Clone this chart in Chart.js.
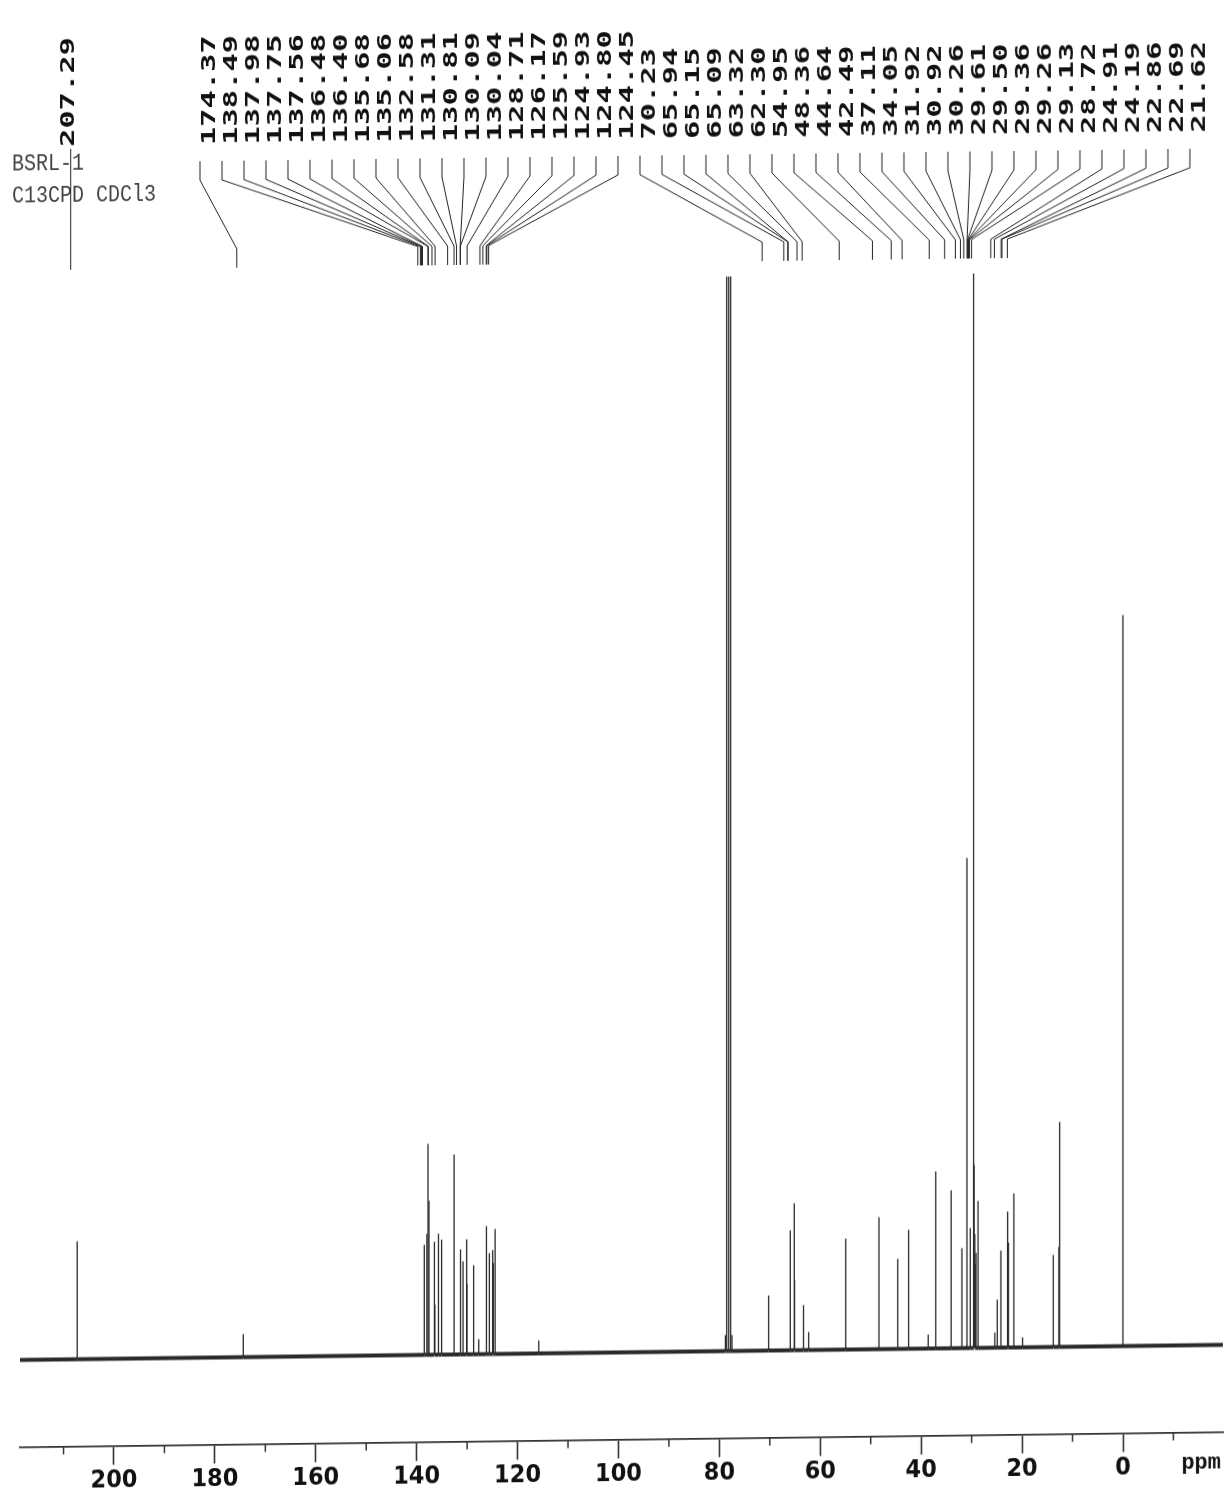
<!DOCTYPE html>
<html>
<head>
<meta charset="utf-8">
<title>BSRL-1 C13CPD CDCl3</title>
<script src="https://cdn.jsdelivr.net/npm/chart.js@4.4.1/dist/chart.umd.min.js"></script>
<style>
  html, body { margin: 0; padding: 0; background: #fff; overflow: hidden; }
  /* the scanned sheet is slightly skewed: baseline rises to the right, verticals stay vertical */
  #wrap { width: 1227px; height: 1493px; transform: skewY(-0.72deg); transform-origin: 50% 50%; }
</style>
</head>
<body>
<div id="wrap"><canvas id="spectrum" width="1227" height="1493"></canvas></div>
<script>
// --- DATA ---
// peaks with a printed value (ppm) and their height above the baseline
const labelledPpm = [
  207.29, 174.37,
  138.49, 137.98, 137.75, 137.56, 136.48, 136.40, 135.68, 135.06, 132.58,
  131.31, 130.81, 130.09, 130.04, 128.71, 126.17, 125.59, 124.93, 124.80, 124.45,
  70.23, 65.94, 65.15, 65.09, 63.32, 62.30, 54.95, 48.36, 44.64, 42.49,
  37.11, 34.05, 31.92, 30.92, 30.26, 29.61, 29.50, 29.36, 29.26, 29.13,
  28.72, 24.91, 24.19, 22.86, 22.69, 21.62
];
const labelledHeight = [
  118, 23,
  110, 121, 211, 154, 113, 50, 121, 115, 200,
  105, 93, 115, 70, 89, 128, 101, 104, 91, 125,
  55, 120, 147, 70, 45, 18, 111, 132, 90, 119,
  177, 158, 100, 490, 120, 1400, 183, 114, 84, 95,
  147, 48, 97, 136, 105, 154
];
// peaks without a printed value: solvent triplet, methyls, TMS, small bumps
const otherPpm    = [127.7, 115.8, 78.8, 78.55, 78.15, 77.76, 77.5, 38.6, 25.4, 19.9, 13.8, 12.7, 12.55, 0.0];
const otherHeight = [15,    13,    16,   1400,  1400,  1400,  16,   14,   15,   10,   92,   100,  225,   731];

const tickValues = [200, 180, 160, 140, 120, 100, 80, 60, 40, 20, 0];
const minorTickValues = [210, 190, 170, 150, 130, 110, 90, 70, 50, 30, 10, -10];
const headerLines = ['BSRL-1', 'C13CPD CDCl3'];

const xMax = 218.63, xMin = -19.82;

// --- SPECTRUM TRACE (sticks on a baseline) ---
const peaks = labelledPpm.map((p, i) => ({ p, h: labelledHeight[i] }))
  .concat(otherPpm.map((p, i) => ({ p, h: otherHeight[i] })))
  .sort((a, b) => b.p - a.p);

const trace = [{ x: xMax, y: 0 }];
peaks.forEach(k => {
  trace.push({ x: k.p, y: 0 }, { x: k.p, y: k.h }, { x: k.p, y: 0 });
});
trace.push({ x: xMin, y: 0 });

// --- ANNOTATIONS: peak list on top, minor ticks, header ---
const annotations = {
  id: 'annotations',
  afterDraw(chart) {
    const ctx = chart.ctx;
    const xs = chart.scales.x;
    const area = chart.chartArea;
    ctx.save();

    // minor ticks
    ctx.strokeStyle = '#333';
    ctx.lineWidth = 1.5;
    minorTickValues.forEach(v => {
      const x = xs.getPixelForValue(v);
      ctx.beginPath();
      ctx.moveTo(x, area.bottom);
      ctx.lineTo(x, area.bottom + 8);
      ctx.stroke();
    });

    ctx.fillStyle = '#111';
    ctx.font = 'bold 22px "Liberation Mono"';
    ctx.textAlign = 'right';
    ctx.fillText('ppm', area.right - 2, area.bottom + 36);

    // header text
    ctx.font = '20px "Liberation Mono"';
    ctx.textAlign = 'left';
    ctx.fillStyle = '#444';
    headerLines.forEach((t, i) => {
      ctx.save();
      ctx.translate(12, 163 + 32 * i);
      ctx.scale(1.0, 1.2);
      ctx.fillText(t, 0, 0);
      ctx.restore();
    });

    // peak labels
    ctx.font = 'bold 20px "DejaVu Sans Mono"';
    ctx.fillStyle = '#111';
    ctx.strokeStyle = '#222';
    ctx.lineWidth = 1;
    const drawLabel = (text, baseX) => {
      ctx.save();
      ctx.translate(baseX, 140);
      ctx.rotate(-Math.PI / 2);
      ctx.scale(1.52, 1);
      ctx.fillText(text, 0, 0);
      ctx.restore();
    };

    labelledPpm.forEach((p, i) => {
      const px = xs.getPixelForValue(p) - 6.5;
      const text = p.toFixed(2);
      if (i === 0) {
        // first one sits right above its peak
        drawLabel(text, px + 3.5);
        ctx.beginPath();
        ctx.moveTo(px, 142);
        ctx.lineTo(px, 263);
        ctx.stroke();
        return;
      }
      const col = 200 + 22 * (i - 1);
      drawLabel(text, col + 15);
      ctx.beginPath();
      ctx.moveTo(col, 156);
      ctx.lineTo(col, 175);
      ctx.lineTo(px, 244);
      ctx.lineTo(px, 263);
      ctx.stroke();
    });

    ctx.restore();
  }
};

// --- CHART ---
const ctx = document.getElementById('spectrum').getContext('2d');
new Chart(ctx, {
  type: 'line',
  data: {
    datasets: [{
      data: trace,
      borderColor: '#2a2a2a',
      pointRadius: 0,
      borderWidth: 1.3,
      clip: 0,
      segment: {
        borderWidth: c => (c.p0.parsed.y === 0 && c.p1.parsed.y === 0) ? 4 : 1.3
      }
    }]
  },
  options: {
    responsive: false,
    animation: false,
    devicePixelRatio: 1,
    layout: { padding: { top: 278, left: 20, right: 4, bottom: 0 } },
    plugins: { legend: { display: false }, tooltip: { enabled: false } },
    scales: {
      x: {
        type: 'linear',
        reverse: true,
        min: xMin,
        max: xMax,
        afterBuildTicks: axis => { axis.ticks = tickValues.map(v => ({ value: v })); },
        afterFit: axis => { axis.height = 53.5; },
        border: { display: true, color: '#333', width: 1.8 },
        grid: { display: true, drawOnChartArea: false, drawTicks: true, tickLength: 19, tickColor: '#333', tickWidth: 1.6 },
        ticks: {
          autoSkip: false,
          maxRotation: 0,
          padding: 3,
          color: '#111',
          font: { family: '"DejaVu Sans Condensed", sans-serif', size: 25, weight: 'bold', lineHeight: 1 },
          callback: v => String(v)
        }
      },
      y: {
        display: false,
        min: -87,
        max: 1074.5
      }
    }
  },
  plugins: [annotations]
});
</script>
</body>
</html>
